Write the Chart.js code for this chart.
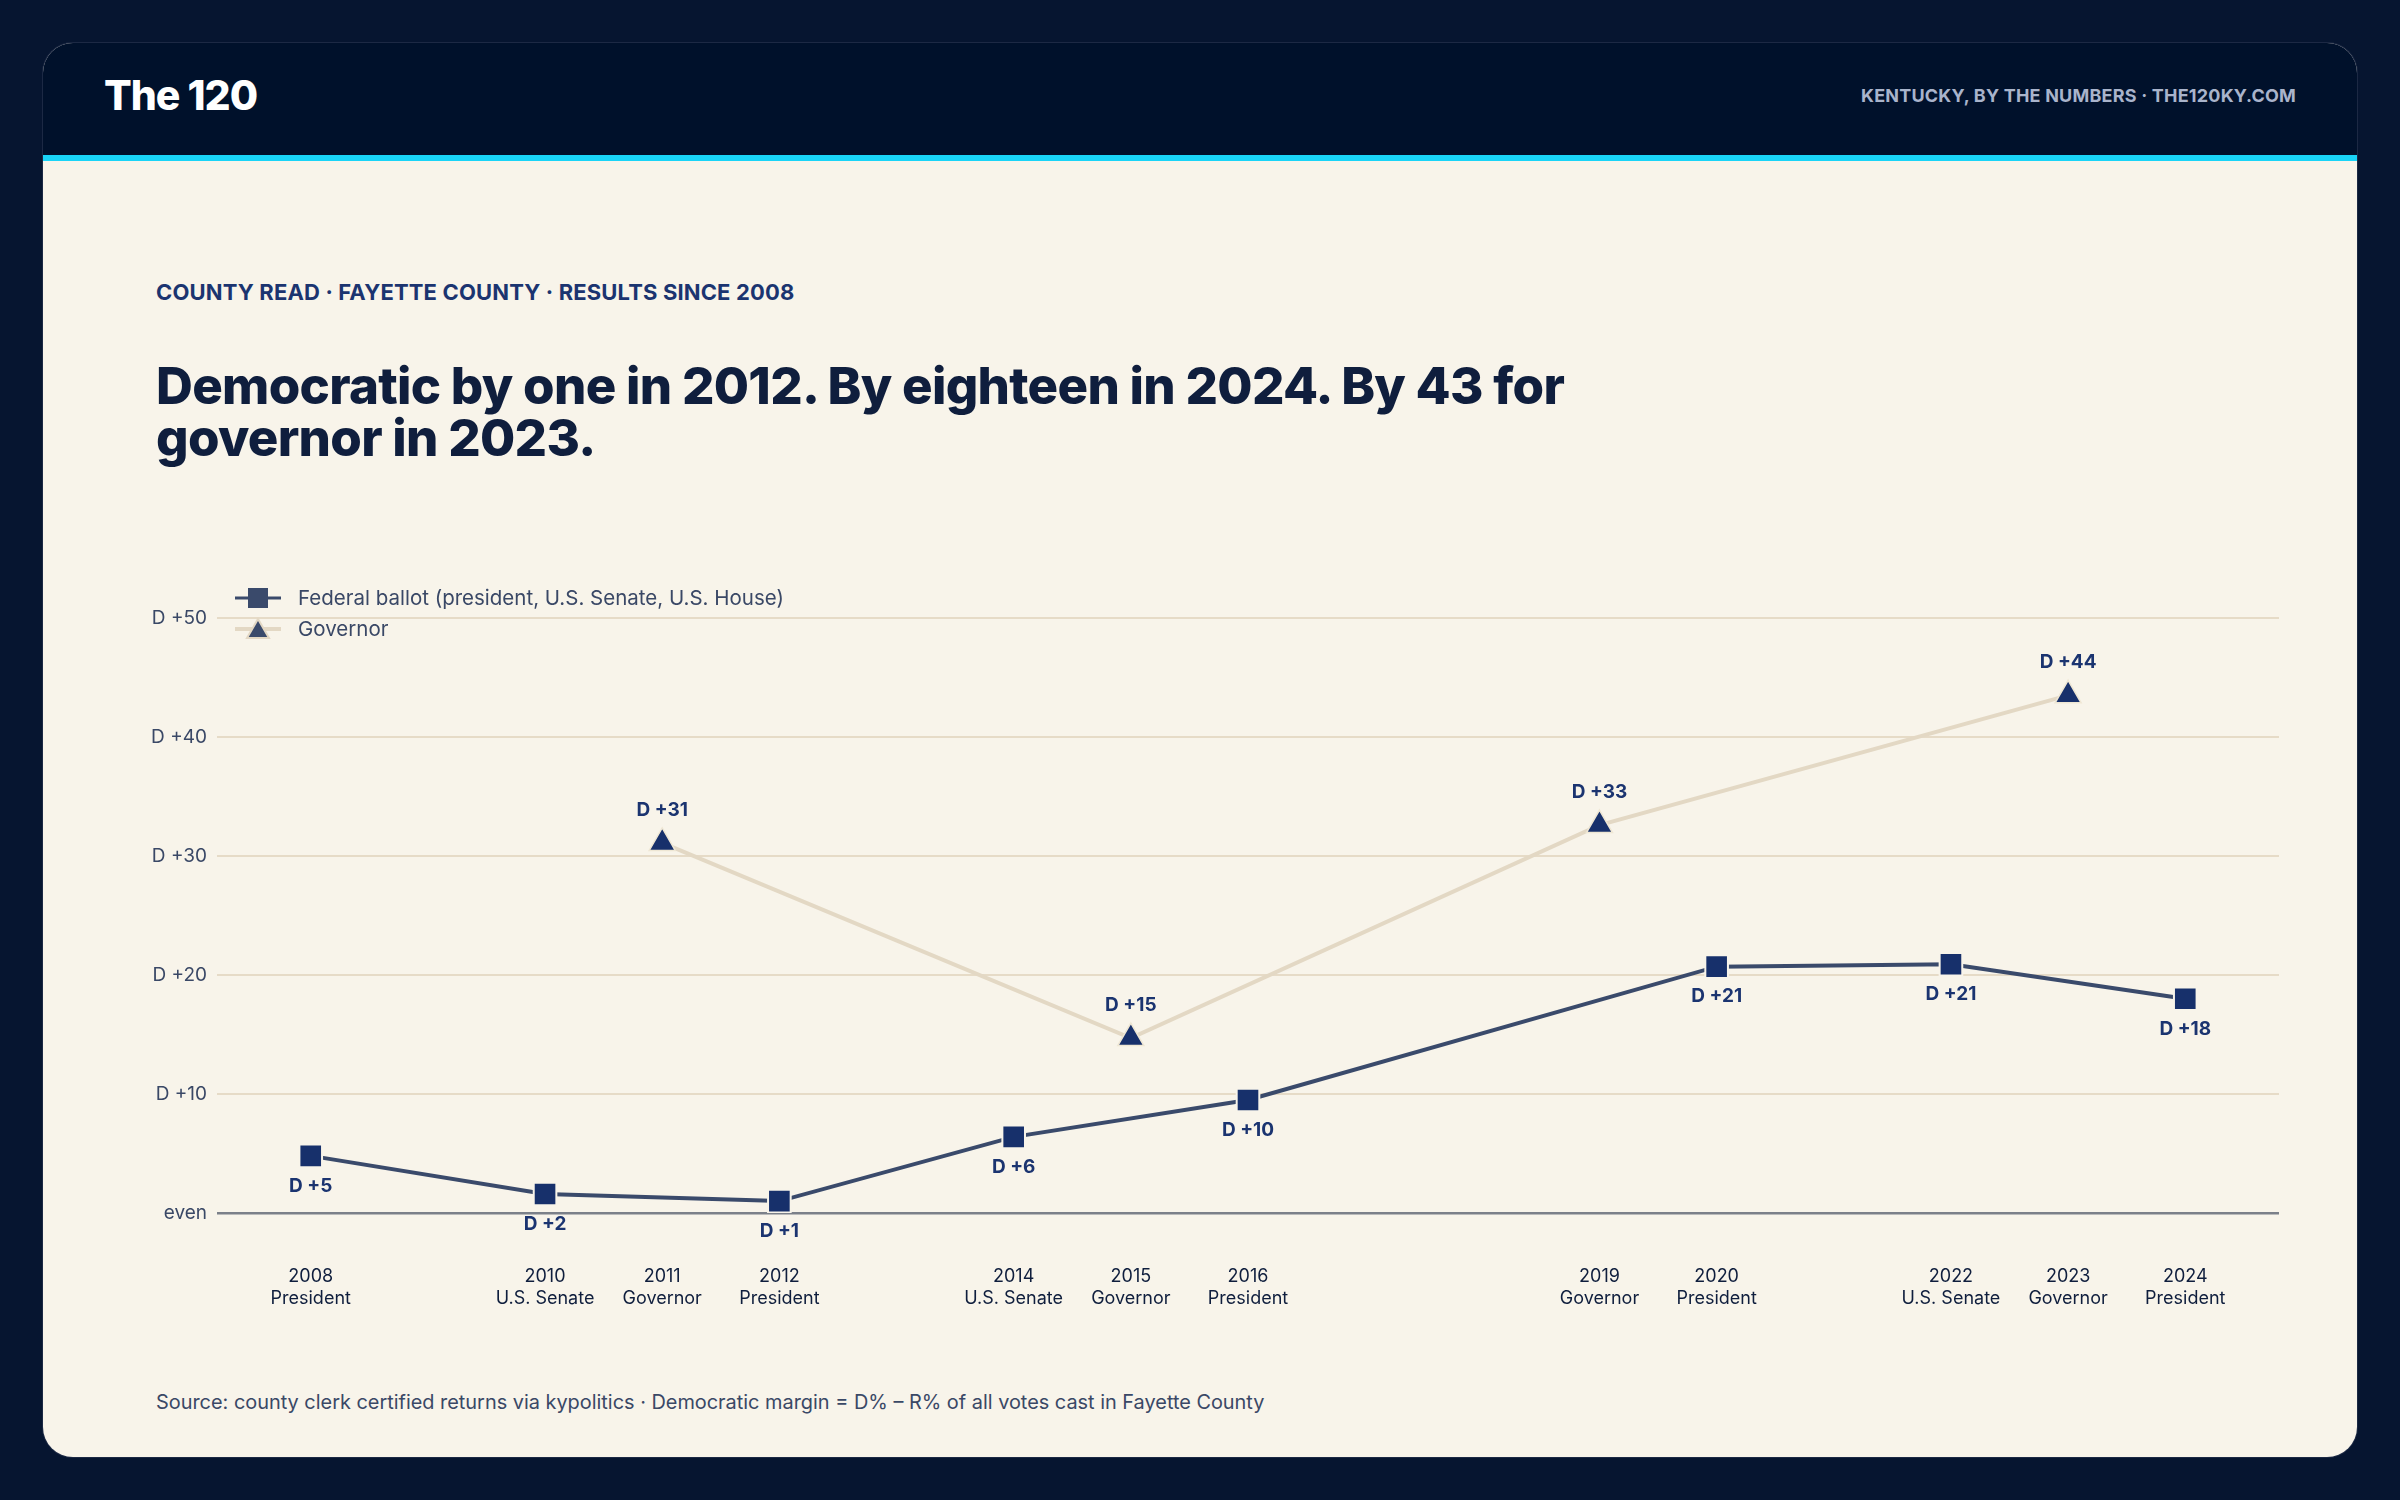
<!DOCTYPE html>
<html>
  <head>
    <meta charset="utf-8">
    <title>Fayette County</title>
    <script src="https://cdn.jsdelivr.net/npm/chart.js@4.4.1/dist/chart.umd.min.js"></script>
    <style>
      body { margin: 0; width: 2400px; height: 1500px; background: #061530; font-family: Inter, "Noto Sans", sans-serif; overflow: hidden; }
      #card { position: absolute; left: 43px; top: 43px; width: 2314px; height: 1414px; border-radius: 30px; background: #f8f4ea; overflow: hidden; box-shadow: 0 0 0 1px #1c2944; }
      #head { position: absolute; left: 0; top: 0; width: 2314px; height: 112px; background: #00112b; border-bottom: 6px solid #19d4f7; }
      #brand { position: absolute; left: 61px; top: 0; line-height: 104px; font-size: 41px; font-weight: 800; color: #ffffff; letter-spacing: -1px; }
      #tag { position: absolute; right: 61px; top: 0; line-height: 106px; font-size: 18px; font-weight: 700; color: #a9b4cb; letter-spacing: 0.2px; }
      #eyebrow { position: absolute; left: 113px; top: 236px; line-height: 26px; font-size: 22px; font-weight: 700; color: #1b3470; letter-spacing: 0.15px; }
      #title { position: absolute; left: 113px; top: 317px; line-height: 52px; font-size: 51px; font-weight: 800; color: #0f1e3d; letter-spacing: -0.7px; }
      #source { position: absolute; left: 113px; top: 1347px; line-height: 24px; font-size: 19.9px; color: #3a4866; }
      #wrap { position: absolute; left: 100px; top: 521px; width: 2154px; height: 749px; }
    </style>
  </head>
  <body>
    <div id="card">
      <div id="head">
        <div id="brand">The 120</div>
        <div id="tag">KENTUCKY, BY THE NUMBERS · THE120KY.COM</div>
      </div>
      <div id="eyebrow">COUNTY READ · FAYETTE COUNTY · RESULTS SINCE 2008</div>
      <div id="title">Democratic by one in 2012. By eighteen in 2024. By 43 for<br>governor in 2023.</div>
      <div id="wrap"><canvas id="marginChart"></canvas></div>
      <div id="source">Source: county clerk certified returns via kypolitics · Democratic margin = D% – R% of all votes cast in Fayette County</div>
    </div>

    <script>
    // election years on the x axis and what was on the ballot
    const years   = [2008, 2010, 2011, 2012, 2014, 2015, 2016, 2019, 2020, 2022, 2023, 2024];
    const offices = ['President', 'U.S. Senate', 'Governor', 'President', 'U.S. Senate', 'Governor',
                     'President', 'Governor', 'President', 'U.S. Senate', 'Governor', 'President'];

    // Democratic margin, points
    const federalYears  = [2008, 2010, 2012, 2014, 2016, 2020, 2022, 2024];
    const federalMargin = [4.8, 1.6, 1.0, 6.4, 9.5, 20.7, 20.9, 18.0];
    const govYears  = [2011, 2015, 2019, 2023];
    const govMargin = [31.1, 14.7, 32.6, 43.5];

    const yTicks = [0, 10, 20, 30, 40, 50];

    const navy = '#17306b';
    const slate = '#3a4a6b';
    const tan = '#e3d8c4';

    function marginText(v) {
      return v === 0 ? 'even' : 'D +' + Math.round(v);
    }

    // value labels under the federal points and over the governor points
    const pointLabels = {
      id: 'pointLabels',
      afterDatasetsDraw(chart) {
        const ctx = chart.ctx;
        ctx.save();
        ctx.font = 'bold 19px Inter, sans-serif';
        ctx.fillStyle = '#1b3470';
        ctx.textAlign = 'center';
        ctx.textBaseline = 'middle';
        chart.data.datasets.forEach(function (ds, i) {
          const meta = chart.getDatasetMeta(i);
          const off = i === 0 ? 30 : -33;
          meta.data.forEach(function (pt, j) {
            ctx.fillText(marginText(ds.data[j].y), pt.x, pt.y + off);
          });
        });
        ctx.restore();
      }
    };

    // legend sits inside the plot, top left, over the D +50 line
    const cornerLegend = {
      id: 'cornerLegend',
      afterDraw(chart) {
        const ctx = chart.ctx;
        const a = chart.chartArea;
        const x0 = a.left + 41;
        const rows = [a.top - 20, a.top + 11];
        ctx.save();
        ctx.lineWidth = 3;

        // federal
        ctx.strokeStyle = slate;
        ctx.beginPath(); ctx.moveTo(a.left + 18, rows[0]); ctx.lineTo(a.left + 64, rows[0]); ctx.stroke();
        ctx.fillStyle = slate;
        ctx.fillRect(x0 - 10, rows[0] - 10, 20, 20);

        // governor
        ctx.strokeStyle = tan;
        ctx.lineWidth = 4;
        ctx.beginPath(); ctx.moveTo(a.left + 18, rows[1]); ctx.lineTo(a.left + 64, rows[1]); ctx.stroke();
        ctx.beginPath();
        ctx.moveTo(x0, rows[1] - 10);
        ctx.lineTo(x0 + 11, rows[1] + 9);
        ctx.lineTo(x0 - 11, rows[1] + 9);
        ctx.closePath();
        ctx.fillStyle = slate;
        ctx.fill();
        ctx.lineWidth = 2;
        ctx.stroke();

        ctx.font = '20.5px Inter, sans-serif';
        ctx.fillStyle = '#3a4866';
        ctx.textAlign = 'left';
        ctx.textBaseline = 'middle';
        chart.data.datasets.forEach(function (ds, i) {
          ctx.fillText(ds.label, a.left + 81, rows[i] + 1);
        });
        ctx.restore();
      }
    };

    function start() {
      const ctx = document.getElementById('marginChart').getContext('2d');

      new Chart(ctx, {
        type: 'line',
        data: {
          datasets: [{
            label: 'Federal ballot (president, U.S. Senate, U.S. House)',
            data: federalYears.map((yr, i) => ({ x: yr, y: federalMargin[i] })),
            borderColor: slate,
            borderWidth: 4,
            pointStyle: 'rect',
            pointRadius: 16,
            pointBackgroundColor: navy,
            pointBorderColor: '#f8f4ea',
            pointBorderWidth: 2,
            order: 1
          },
          {
            label: 'Governor',
            data: govYears.map((yr, i) => ({ x: yr, y: govMargin[i] })),
            borderColor: tan,
            borderWidth: 4,
            pointStyle: 'triangle',
            pointRadius: 15,
            pointBackgroundColor: navy,
            pointBorderColor: '#efe7d4',
            pointBorderWidth: 1.5,
            order: 2
          }]
        },
        options: {
          responsive: true,
          maintainAspectRatio: false,
          animation: false,
          devicePixelRatio: 1,
          layout: { padding: { top: 54, right: 0, bottom: 0, left: 0 } },
          plugins: {
            legend: { display: false },
            tooltip: { enabled: false }
          },
          scales: {
            x: {
              type: 'linear',
              min: 2007.2,
              max: 2024.8,
              afterBuildTicks: function (scale) {
                scale.ticks = years.map(v => ({ value: v }));
              },
              afterFit: function (scale) {
                scale.height = 100;
                scale.paddingLeft = 0;
                scale.paddingRight = 0;
              },
              grid: { display: false, drawTicks: false },
              border: { display: false },
              ticks: {
                autoSkip: false,
                maxRotation: 0,
                padding: 53,
                color: '#0f1e3d',
                font: { family: 'Inter', size: 18, lineHeight: 1.2 },
                callback: function (value) {
                  const i = years.indexOf(value);
                  return [String(value), offices[i]];
                }
              }
            },
            y: {
              min: 0,
              max: 50,
              afterBuildTicks: function (scale) {
                scale.ticks = yTicks.map(v => ({ value: v }));
              },
              afterFit: function (scale) { scale.width = 74; },
              grid: {
                drawTicks: false,
                color: c => c.tick.value === 0 ? '#7b8089' : '#e6dbc7',
                lineWidth: c => c.tick.value === 0 ? 2.5 : 2
              },
              border: { display: false },
              ticks: {
                padding: 10,
                color: '#3a4866',
                font: { family: 'Inter', size: 19 },
                callback: v => marginText(v)
              }
            }
          }
        },
        plugins: [pointLabels, cornerLegend]
      });
    }

    start();
    </script>
  </body>
</html>
